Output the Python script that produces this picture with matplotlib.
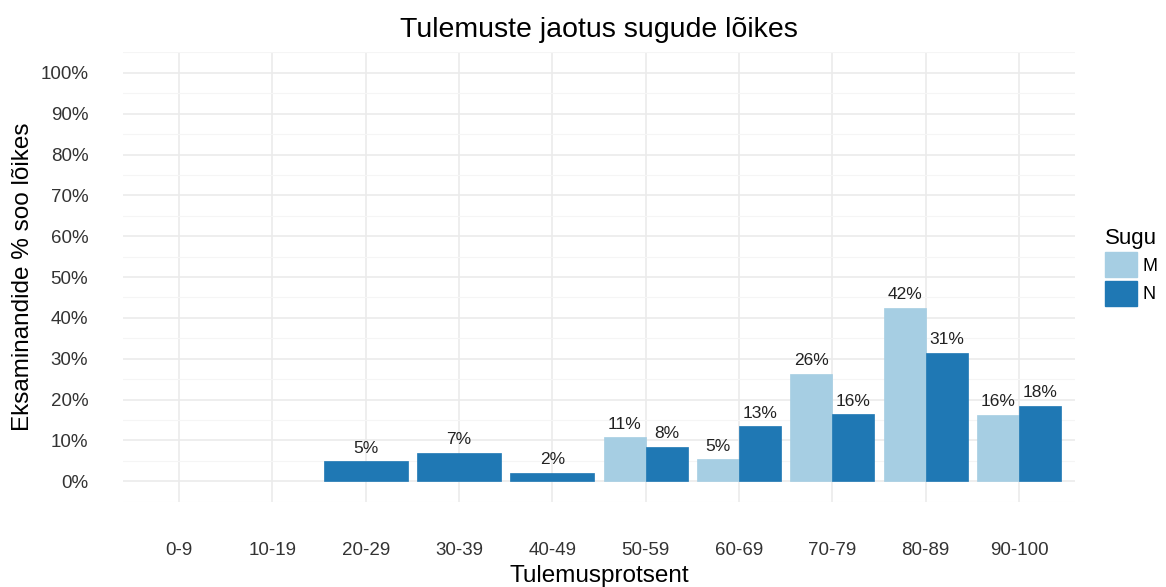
import numpy as np
import matplotlib
matplotlib.use("Agg")
import matplotlib.pyplot as plt
from matplotlib.patches import Patch

plt.rcParams['font.family'] = ['Liberation Sans', 'DejaVu Sans']

# andmed
kategooriad = ['0-9', '10-19', '20-29', '30-39', '40-49', '50-59', '60-69', '70-79', '80-89', '90-100']
M = [np.nan, np.nan, np.nan, np.nan, np.nan, 10.8, 5.4, 26.3, 42.4, 16.2]
N = [np.nan, np.nan, 4.9, 6.9, 2.0, 8.4, 13.4, 16.4, 31.4, 18.4]
sood = ['M', 'N']
varvid = ['#a6cee3', '#1f78b4']

fig = plt.figure(figsize=(11.66, 5.87), dpi=100)
ax = fig.add_axes([0.1055, 0.1448, 0.8165, 0.7666])

x = np.arange(1, len(kategooriad) + 1)
w = 0.9
for i in range(len(kategooriad)):
    olemas = [(s, v, c) for s, v, c in zip(sood, [M[i], N[i]], varvid) if not np.isnan(v)]
    k = len(olemas)
    if k == 0:
        continue
    bw = w / k
    for j, (s, v, c) in enumerate(olemas):
        xc = x[i] - w / 2 + bw * (j + 0.5)
        ax.bar(xc, v, width=bw, color=c, edgecolor=c, linewidth=0.5, zorder=3)
        ax.annotate('%d%%' % round(v), (xc, v), xytext=(0, 4), textcoords='offset points',
                    ha='center', va='bottom', fontsize=12.5, color='#222222', zorder=4)

ax.set_xlim(0.4, len(kategooriad) + 0.6)
ax.set_ylim(-5.1, 105.1)
ax.set_xticks(x)
ax.set_xticklabels(kategooriad)
ax.set_yticks(np.arange(0, 101, 10))
ax.set_yticklabels(['%d%%' % t for t in range(0, 101, 10)])
ax.set_yticks(np.arange(-5, 106, 10), minor=True)
ax.grid(True, which='major', color='#ebebeb', linewidth=1.2, zorder=0)
ax.grid(True, which='minor', axis='y', color='#f5f5f5', linewidth=0.8, zorder=0)
for sp in ax.spines.values():
    sp.set_visible(False)
ax.tick_params(axis='both', which='both', length=0, labelsize=13.5, colors='#333333')
ax.tick_params(axis='y', pad=25)
ax.tick_params(axis='x', pad=29)

ax.set_title('Tulemuste jaotus sugude lõikes', fontsize=20.5, pad=11)
ax.set_xlabel('Tulemusprotsent', fontsize=17.5, labelpad=4)
ax.set_ylabel('Eksaminandide % soo lõikes', fontsize=17.5, labelpad=4.5)

kasitsed = [Patch(facecolor=c, edgecolor=c, label=s) for s, c in zip(sood, varvid)]
leg = fig.legend(handles=kasitsed, title='Sugu', loc='upper left', bbox_to_anchor=(0.9477, 0.612),
                 frameon=False, fontsize=13, title_fontsize=16, handlelength=1.75, handleheight=1.75,
                 labelspacing=0.2, handletextpad=0.35, borderaxespad=0, borderpad=0)
leg._legend_box.align = 'left'

fig.savefig('out.png', dpi=100)
